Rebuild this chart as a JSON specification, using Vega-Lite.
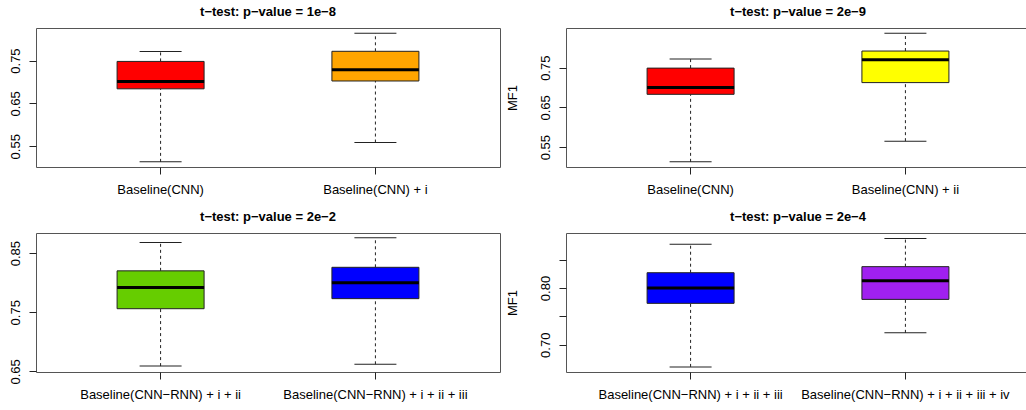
{
  "$schema": "https://vega.github.io/schema/vega-lite/v6.json",
  "background": "white",
  "padding": {"left": 8, "top": 5, "right": 0, "bottom": 0},
  "datasets": {
    "boxes": [
      {"panel": 1, "group": "Baseline(CNN)", "low": 0.5135, "q1": 0.684, "median": 0.701, "q3": 0.748, "high": 0.771},
      {"panel": 1, "group": "Baseline(CNN) + i", "low": 0.5586, "q1": 0.7023, "median": 0.7284, "q3": 0.7716, "high": 0.814},
      {"panel": 2, "group": "Baseline(CNN)", "low": 0.513, "q1": 0.683, "median": 0.700, "q3": 0.749, "high": 0.772},
      {"panel": 2, "group": "Baseline(CNN) + ii", "low": 0.565, "q1": 0.7125, "median": 0.770, "q3": 0.792, "high": 0.837},
      {"panel": 3, "group": "Baseline(CNN-RNN) + i + ii", "low": 0.659, "q1": 0.756, "median": 0.792, "q3": 0.820, "high": 0.868},
      {"panel": 3, "group": "Baseline(CNN-RNN) + i + ii + iii", "low": 0.662, "q1": 0.773, "median": 0.800, "q3": 0.826, "high": 0.876},
      {"panel": 4, "group": "Baseline(CNN-RNN) + i + ii + iii", "low": 0.661, "q1": 0.773, "median": 0.800, "q3": 0.827, "high": 0.877},
      {"panel": 4, "group": "Baseline(CNN-RNN) + i + ii + iii + iv", "low": 0.721, "q1": 0.780, "median": 0.813, "q3": 0.8377, "high": 0.8875}
    ]
  },
  "columns": 2,
  "spacing": 66,
  "bounds": "flush",
  "resolve": {"scale": {"x": "independent", "y": "independent"}},
  "concat": [
    {
      "width": 464, "height": 139,
      "title": {"text": "t−test: p−value = 1e−8"},
      "data": {"name": "boxes"},
      "transform": [{"filter": "datum.panel == 1"}],
      "encoding": {"x": {"field": "group", "type": "nominal", "sort": null, "title": null, "scale": {"type": "band", "paddingInner": 0, "paddingOuter": 0.08}, "axis": {"labelExpr": "replace(datum.label, '-', '−')"}}},
      "layer": [
        {"mark": {"type": "rule", "strokeDash": [3, 3], "color": "#222"}, "encoding": {"y": {"field": "low", "type": "quantitative", "title": null, "scale": {"domain": [0.5015, 0.826], "nice": false, "zero": false}, "axis": {"values": [0.55, 0.6, 0.65, 0.7, 0.75, 0.8], "format": ".2f", "labelExpr": "round(datum.value*100) % 10 == 5 ? datum.label : ''"}}, "y2": {"field": "q1"}}},
        {"mark": {"type": "rule", "strokeDash": [3, 3], "color": "#222"}, "encoding": {"y": {"field": "q3", "type": "quantitative", "title": null}, "y2": {"field": "high"}}},
        {"mark": {"type": "tick", "size": 42, "thickness": 1, "color": "#222", "opacity": 1}, "encoding": {"y": {"field": "low", "type": "quantitative", "title": null}}},
        {"mark": {"type": "tick", "size": 42, "thickness": 1, "color": "#222", "opacity": 1}, "encoding": {"y": {"field": "high", "type": "quantitative", "title": null}}},
        {"mark": {"type": "bar", "size": 87, "stroke": "#222", "strokeWidth": 1, "opacity": 1}, "encoding": {"y": {"field": "q1", "type": "quantitative", "title": null}, "y2": {"field": "q3"}, "color": {"field": "group", "type": "nominal", "legend": null}}},
        {"mark": {"type": "tick", "size": 87, "thickness": 3, "color": "black", "opacity": 1}, "encoding": {"y": {"field": "median", "type": "quantitative", "title": null}}}
      ]
    },
    {
      "width": 464, "height": 139,
      "title": {"text": "t−test: p−value = 2e−9"},
      "data": {"name": "boxes"},
      "transform": [{"filter": "datum.panel == 2"}],
      "encoding": {"x": {"field": "group", "type": "nominal", "sort": null, "title": null, "scale": {"type": "band", "paddingInner": 0, "paddingOuter": 0.08}, "axis": {"labelExpr": "replace(datum.label, '-', '−')"}}},
      "layer": [
        {"mark": {"type": "rule", "strokeDash": [3, 3], "color": "#222"}, "encoding": {"y": {"field": "low", "type": "quantitative", "title": "MF1", "scale": {"domain": [0.50, 0.85], "nice": false, "zero": false}, "axis": {"values": [0.55, 0.6, 0.65, 0.7, 0.75, 0.8], "format": ".2f", "labelExpr": "round(datum.value*100) % 10 == 5 ? datum.label : ''", "titleX": -54, "titleY": 69.5}}, "y2": {"field": "q1"}}},
        {"mark": {"type": "rule", "strokeDash": [3, 3], "color": "#222"}, "encoding": {"y": {"field": "q3", "type": "quantitative", "title": "MF1"}, "y2": {"field": "high"}}},
        {"mark": {"type": "tick", "size": 42, "thickness": 1, "color": "#222", "opacity": 1}, "encoding": {"y": {"field": "low", "type": "quantitative", "title": "MF1"}}},
        {"mark": {"type": "tick", "size": 42, "thickness": 1, "color": "#222", "opacity": 1}, "encoding": {"y": {"field": "high", "type": "quantitative", "title": "MF1"}}},
        {"mark": {"type": "bar", "size": 87, "stroke": "#222", "strokeWidth": 1, "opacity": 1}, "encoding": {"y": {"field": "q1", "type": "quantitative", "title": "MF1"}, "y2": {"field": "q3"}, "color": {"field": "group", "type": "nominal", "legend": null}}},
        {"mark": {"type": "tick", "size": 87, "thickness": 3, "color": "black", "opacity": 1}, "encoding": {"y": {"field": "median", "type": "quantitative", "title": "MF1"}}}
      ]
    },
    {
      "width": 464, "height": 139,
      "title": {"text": "t−test: p−value = 2e−2"},
      "data": {"name": "boxes"},
      "transform": [{"filter": "datum.panel == 3"}],
      "encoding": {"x": {"field": "group", "type": "nominal", "sort": null, "title": null, "scale": {"type": "band", "paddingInner": 0, "paddingOuter": 0.08}, "axis": {"labelExpr": "replace(datum.label, '-', '−')"}}},
      "layer": [
        {"mark": {"type": "rule", "strokeDash": [3, 3], "color": "#222"}, "encoding": {"y": {"field": "low", "type": "quantitative", "title": null, "scale": {"domain": [0.649, 0.884], "nice": false, "zero": false}, "axis": {"values": [0.65, 0.7, 0.75, 0.8, 0.85], "format": ".2f", "labelExpr": "round(datum.value*100) % 10 == 5 ? datum.label : ''"}}, "y2": {"field": "q1"}}},
        {"mark": {"type": "rule", "strokeDash": [3, 3], "color": "#222"}, "encoding": {"y": {"field": "q3", "type": "quantitative", "title": null}, "y2": {"field": "high"}}},
        {"mark": {"type": "tick", "size": 42, "thickness": 1, "color": "#222", "opacity": 1}, "encoding": {"y": {"field": "low", "type": "quantitative", "title": null}}},
        {"mark": {"type": "tick", "size": 42, "thickness": 1, "color": "#222", "opacity": 1}, "encoding": {"y": {"field": "high", "type": "quantitative", "title": null}}},
        {"mark": {"type": "bar", "size": 87, "stroke": "#222", "strokeWidth": 1, "opacity": 1}, "encoding": {"y": {"field": "q1", "type": "quantitative", "title": null}, "y2": {"field": "q3"}, "color": {"field": "group", "type": "nominal", "legend": null}}},
        {"mark": {"type": "tick", "size": 87, "thickness": 3, "color": "black", "opacity": 1}, "encoding": {"y": {"field": "median", "type": "quantitative", "title": null}}}
      ]
    },
    {
      "width": 464, "height": 139,
      "title": {"text": "t−test: p−value = 2e−4"},
      "data": {"name": "boxes"},
      "transform": [{"filter": "datum.panel == 4"}],
      "encoding": {"x": {"field": "group", "type": "nominal", "sort": null, "title": null, "scale": {"type": "band", "paddingInner": 0, "paddingOuter": 0.08}, "axis": {"labelExpr": "replace(datum.label, '-', '−')"}}},
      "layer": [
        {"mark": {"type": "rule", "strokeDash": [3, 3], "color": "#222"}, "encoding": {"y": {"field": "low", "type": "quantitative", "title": "MF1", "scale": {"domain": [0.652, 0.897], "nice": false, "zero": false}, "axis": {"values": [0.7, 0.75, 0.8, 0.85], "format": ".2f", "labelExpr": "round(datum.value*100) % 10 == 0 ? datum.label : ''", "titleX": -54, "titleY": 69.5}}, "y2": {"field": "q1"}}},
        {"mark": {"type": "rule", "strokeDash": [3, 3], "color": "#222"}, "encoding": {"y": {"field": "q3", "type": "quantitative", "title": "MF1"}, "y2": {"field": "high"}}},
        {"mark": {"type": "tick", "size": 42, "thickness": 1, "color": "#222", "opacity": 1}, "encoding": {"y": {"field": "low", "type": "quantitative", "title": "MF1"}}},
        {"mark": {"type": "tick", "size": 42, "thickness": 1, "color": "#222", "opacity": 1}, "encoding": {"y": {"field": "high", "type": "quantitative", "title": "MF1"}}},
        {"mark": {"type": "bar", "size": 87, "stroke": "#222", "strokeWidth": 1, "opacity": 1}, "encoding": {"y": {"field": "q1", "type": "quantitative", "title": "MF1"}, "y2": {"field": "q3"}, "color": {"field": "group", "type": "nominal", "legend": null}}},
        {"mark": {"type": "tick", "size": 87, "thickness": 3, "color": "black", "opacity": 1}, "encoding": {"y": {"field": "median", "type": "quantitative", "title": "MF1"}}}
      ]
    }
  ],
  "config": {
    "font": "Liberation Sans",
    "view": {"stroke": "#555", "strokeWidth": 1},
    "range": {"category": ["#FF0000", "#FFA500", "#FFFF00", "#66CD00", "#0000FF", "#A020F0"]},
    "scale": {"bandPaddingInner": 0},
    "title": {"fontSize": 13, "fontWeight": "bold", "color": "black", "anchor": "middle", "frame": "group", "offset": 9, "baseline": "alphabetic"},
    "axis": {"grid": false, "domain": false, "tickColor": "#222", "tickSize": 7, "labelColor": "black", "labelFontSize": 13, "titleFontSize": 13, "titleFontWeight": "normal", "titleColor": "black", "labelOverlap": false, "labelLimit": 500},
    "axisX": {"labelAngle": 0, "labelPadding": 9},
    "axisY": {"labelAngle": -90, "labelAlign": "center", "labelBaseline": "alphabetic", "labelPadding": 10, "titleAngle": -90, "titleAlign": "center", "titleBaseline": "middle"}
  }
}
